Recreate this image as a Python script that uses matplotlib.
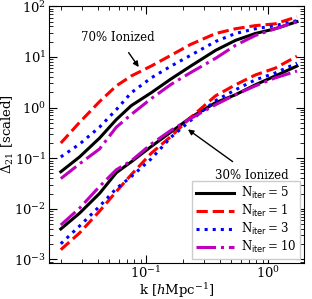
import numpy as np
import matplotlib
matplotlib.use('Agg')
import matplotlib.pyplot as plt

plt.rcParams['font.family'] = 'DejaVu Serif'
plt.rcParams['mathtext.fontset'] = 'dejavuserif'
plt.rcParams['font.size'] = 9

k = [0.020, 0.0285, 0.0415, 0.057, 0.0755, 0.110, 0.160, 0.232, 0.371, 0.539, 0.784, 1.14, 1.72]

# 70% ionized
hi_n5 = [0.054, 0.106, 0.249, 0.58, 1.09, 1.96, 3.68, 6.6, 13.5, 21.2, 29, 36, 49.6]
hi_n1 = [0.199, 0.51, 1.31, 2.68, 4.2, 6.6, 10.8, 17.7, 29, 36, 41.5, 45, 62]
hi_n3 = [0.106, 0.19, 0.41, 0.91, 1.96, 3.85, 6.6, 10.8, 20.2, 29, 36, 41.5, 52]
hi_n10 = [0.0395, 0.0774, 0.152, 0.41, 0.73, 1.50, 2.87, 4.92, 9.4, 16.9, 26.5, 36, 49.6]

# 30% ionized
lo_n5 = [0.0040, 0.0082, 0.0201, 0.0517, 0.0847, 0.17, 0.33, 0.638, 1.25, 1.79, 2.81, 4.2, 6.6]
lo_n1 = [0.00156, 0.00334, 0.00898, 0.022, 0.0472, 0.125, 0.27, 0.638, 1.71, 2.81, 4.4, 6.0, 10.3]
lo_n3 = [0.00204, 0.00458, 0.0112, 0.0252, 0.0432, 0.097, 0.26, 0.558, 1.37, 2.24, 3.52, 4.81, 7.54]
lo_n10 = [0.00479, 0.0103, 0.0276, 0.0591, 0.0886, 0.19, 0.356, 0.61, 1.14, 1.79, 2.68, 3.85, 5.26]

fig = plt.figure(figsize=(3.12, 2.99), dpi=100)
ax = fig.add_axes([0.157, 0.122, 0.817, 0.857])

lw = 2.2
ax.plot(k, hi_n5, color='k', lw=lw, label=r'N$_{\mathsf{iter}}=5$')
ax.plot(k, hi_n1, color='r', lw=lw, ls='--', label=r'N$_{\mathsf{iter}}=1$')
ax.plot(k, hi_n3, color='b', lw=lw, ls=':', label=r'N$_{\mathsf{iter}}=3$')
ax.plot(k, hi_n10, color='m', lw=lw, ls='-.', label=r'N$_{\mathsf{iter}}=10$')
ax.plot(k, lo_n5, color='k', lw=lw)
ax.plot(k, lo_n1, color='r', lw=lw, ls='--')
ax.plot(k, lo_n3, color='b', lw=lw, ls=':')
ax.plot(k, lo_n10, color='m', lw=lw, ls='-.')

ax.set_xscale('log')
ax.set_yscale('log')
ax.set_xlim(0.016, 1.96)
ax.set_ylim(8.7e-4, 1e2)

ax.tick_params(which='both', direction='in', top=True, right=True, labelsize=9.5)
ax.tick_params(which='major', length=6, pad=2)
ax.tick_params(which='minor', length=3)

ax.set_xlabel(r'k [$h$Mpc$^{-1}$]', labelpad=0, fontsize=9.5)
ax.set_ylabel(r'$\Delta_{21}$ [scaled]', labelpad=-1, fontsize=9.5)

ax.annotate('70% Ionized', xy=(0.087, 6.3), xytext=(0.059, 24),
            ha='center', va='center', fontsize=8.5,
            arrowprops=dict(arrowstyle='-|>', color='k', lw=1, mutation_scale=8,
                            shrinkA=5, shrinkB=0))
ax.annotate('30% Ionized', xy=(0.22, 0.37), xytext=(0.74, 0.045),
            ha='center', va='center', fontsize=8.5,
            arrowprops=dict(arrowstyle='-|>', color='k', lw=1, mutation_scale=8,
                            shrinkA=6, shrinkB=0))

ax.legend(loc='lower right', fontsize=8.5, handlelength=3.2, borderpad=0.35,
          labelspacing=0.15, handletextpad=0.6, borderaxespad=0.3,
          fancybox=False, framealpha=1)

plt.savefig('out.png', dpi=100)
